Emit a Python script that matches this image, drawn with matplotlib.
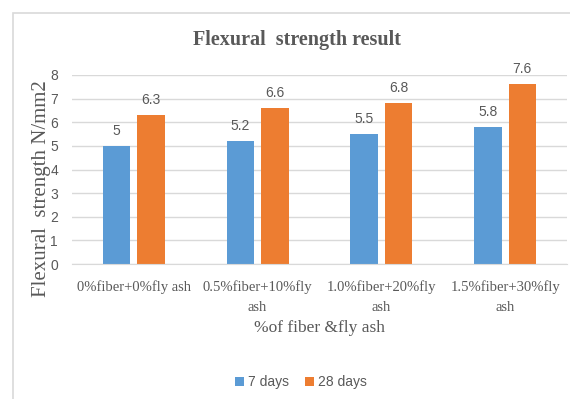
import numpy as np
import matplotlib
matplotlib.use("Agg")
import matplotlib.pyplot as plt
from matplotlib.patches import Rectangle

categories = ["0%fiber+0%fly ash", "0.5%fiber+10%fly\nash",
              "1.0%fiber+20%fly\nash", "1.5%fiber+30%fly\nash"]
days7 = [5, 5.2, 5.5, 5.8]
days28 = [6.3, 6.6, 6.8, 7.6]

blue = "#5B9BD5"
orange = "#ED7D31"
grey = "#595959"
sans = ["Liberation Sans", "DejaVu Sans"]
serif = ["Liberation Serif", "DejaVu Serif"]

fig = plt.figure(figsize=(5.7, 3.99), dpi=100)
# outer chart frame (left and top edges visible)
fig.patches.append(Rectangle((13 / 570, -0.1), 1.2, (399 - 13) / 399 + 0.1,
                             transform=fig.transFigure, fill=False,
                             edgecolor="#D9D9D9", lw=1.2))

ax = fig.add_axes([72 / 570, 1 - 264 / 399, (567 - 72) / 570, (264 - 75) / 399])

x = np.arange(len(categories))
w = 0.222
off = 0.139
b1 = ax.bar(x - off, days7, w, color=blue, label="7 days")
b2 = ax.bar(x + off, days28, w, color=orange, label="28 days")

for bars, vals in ((b1, days7), (b2, days28)):
    for b, v in zip(bars, vals):
        ax.text(b.get_x() + b.get_width() / 2, v + 0.35, f"{v:g}",
                ha="center", va="bottom", fontsize=10, color=grey, family=sans)

ax.set_xlim(-0.5, len(categories) - 0.5)
ax.set_ylim(0, 8)
ax.set_yticks(range(0, 9))
ax.yaxis.grid(True, color="#D9D9D9", lw=1)
ax.set_axisbelow(True)
for s in ax.spines.values():
    s.set_visible(False)
ax.spines["bottom"].set_visible(True)
ax.spines["bottom"].set_color("#D9D9D9")
ax.tick_params(length=0)
ax.tick_params(axis="y", pad=10, labelcolor=grey)
ax.tick_params(axis="x", pad=12, labelcolor=grey)
for t in ax.get_yticklabels():
    t.set_family(sans)
    t.set_fontsize(10)
ax.set_xticks(x)
ax.set_xticklabels(categories, family=serif, fontsize=10.5, linespacing=1.7)

ax.set_ylabel("Flexural  strength N/mm2", family=serif, fontsize=15,
              color=grey)
ax.yaxis.set_label_coords(-0.042, 0.40)
ax.set_xlabel("%of fiber &fly ash", family=serif, fontsize=12.5, color=grey,
              labelpad=4)

fig.text(297 / 570, 1 - 40 / 399, "Flexural  strength result", family=serif,
         fontsize=14.5, fontweight="bold", color=grey, ha="center", va="center")

fig.legend(loc="center", bbox_to_anchor=(301 / 570, 1 - 382 / 399), ncol=2,
           frameon=False, prop={"family": sans, "size": 10},
           handlelength=0.6, handleheight=0.6, handletextpad=0.3,
           columnspacing=1.2, labelcolor=grey)

fig.savefig("out.png", dpi=100)
